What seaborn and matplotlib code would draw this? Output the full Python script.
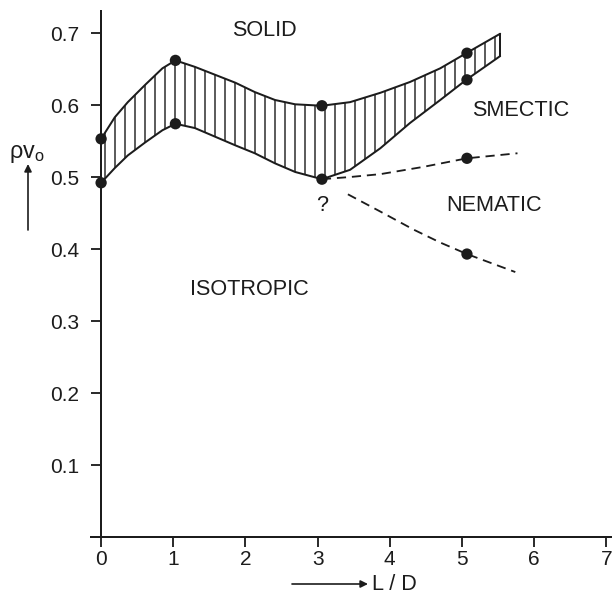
import numpy as np
import pandas as pd
import matplotlib
matplotlib.use("Agg")
import matplotlib.pyplot as plt
import seaborn as sns

# Coexistence band (solid / fluid), read along L/D
band_x = [0, 0.19, 0.37, 0.61, 0.85, 1.03, 1.30, 1.58, 1.86, 2.13, 2.41, 2.69,
          3.06, 3.45, 3.87, 4.28, 4.70, 5.06, 5.53]
band_upper = [0.553, 0.583, 0.604, 0.628, 0.651, 0.662, 0.653, 0.642, 0.631,
              0.618, 0.607, 0.601, 0.599, 0.604, 0.617, 0.632, 0.651, 0.672, 0.699]
band_lower = [0.492, 0.5125, 0.530, 0.548, 0.565, 0.574, 0.568, 0.556, 0.544,
              0.533, 0.519, 0.507, 0.497, 0.510, 0.540, 0.575, 0.607, 0.635, 0.668]

# Smectic / nematic boundary
sm_x = [3.06, 3.45, 3.87, 4.46, 5.07, 5.77]
sm_y = [0.497, 0.500, 0.504, 0.514, 0.526, 0.533]

# Isotropic / nematic boundary
ni_x = [3.42, 3.87, 4.33, 4.70, 5.07, 5.74]
ni_y = [0.476, 0.452, 0.427, 0.409, 0.393, 0.368]

# Simulation state points
pts_x = [0, 0, 1.03, 1.03, 3.06, 3.06, 5.07, 5.07, 5.07, 5.07]
pts_y = [0.553, 0.492, 0.662, 0.574, 0.599, 0.497, 0.672, 0.635, 0.526, 0.393]

x_ticks = [0, 1, 2, 3, 4, 5, 6, 7]
y_ticks = [0.1, 0.2, 0.3, 0.4, 0.5, 0.6, 0.7]
y_tick_labels = ["0.1", "0.2", "0.3", "0.4", "0.5", "0.6", "0.7"]

region_labels = ["SOLID", "SMECTIC", "NEMATIC", "ISOTROPIC", "?"]
region_x = [2.26, 5.81, 5.45, 2.05, 3.06]
region_y = [0.704, 0.593, 0.461, 0.344, 0.461]

sns.set_style("ticks")
plt.rcParams["font.family"] = ["Liberation Sans", "DejaVu Sans"]
plt.rcParams["hatch.linewidth"] = 0.85
ink = "#1c1c1c"

fig = plt.figure(figsize=(5.1, 5.025), dpi=120)
ax = fig.add_axes([91 / 612, 66 / 603, 521 / 612, 526 / 603])

band = pd.DataFrame({"x": band_x, "upper": band_upper, "lower": band_lower})
ax.fill_between(band["x"], band["lower"], band["upper"], facecolor="none",
                edgecolor=ink, hatch="||", linewidth=0)
sns.lineplot(x="x", y="upper", data=band, ax=ax, color=ink, lw=1.2,
             sort=False, estimator=None)
sns.lineplot(x="x", y="lower", data=band, ax=ax, color=ink, lw=1.2,
             sort=False, estimator=None)
ax.plot([band_x[-1], band_x[-1]], [band_lower[-1], band_upper[-1]], color=ink, lw=1.2)

sns.lineplot(x=sm_x, y=sm_y, ax=ax, color=ink, lw=1.1, sort=False,
             estimator=None, dashes=False, linestyle=(0, (5, 3.2)))
sns.lineplot(x=ni_x, y=ni_y, ax=ax, color=ink, lw=1.1, sort=False,
             estimator=None, dashes=False, linestyle=(0, (5, 3.2)))

sns.scatterplot(x=pts_x, y=pts_y, ax=ax, color=ink, s=46, edgecolor="none",
                zorder=5)

for lab, tx, ty in zip(region_labels, region_x, region_y):
    ax.text(tx, ty, lab, ha="center", va="center", fontsize=13, color=ink)

ax.set_xlim(-0.14, 7.08)
ax.set_ylim(0, 0.7306)
ax.set_xticks(x_ticks)
ax.set_xticklabels([str(v) for v in x_ticks])
ax.set_yticks(y_ticks)
ax.set_yticklabels(y_tick_labels)
ax.tick_params(axis="both", length=6, width=1.1, color=ink, labelcolor=ink,
               labelsize=12.5)
ax.tick_params(axis="x", pad=2)
ax.tick_params(axis="y", pad=7)

sns.despine(ax=ax)
ax.spines["left"].set_position(("data", 0))
ax.spines["bottom"].set_position(("data", 0))
for side in ("left", "bottom"):
    ax.spines[side].set_linewidth(1.2)
    ax.spines[side].set_color(ink)
ax.set_xlabel("")
ax.set_ylabel("")

# Axis captions with arrows
fig.text(372 / 612, 1 - 584 / 603, "L / D", ha="left", va="center",
         fontsize=13, color=ink)
ax.annotate("", xy=(368 / 612, 1 - 584 / 603), xytext=(292 / 612, 1 - 584 / 603),
            xycoords="figure fraction", textcoords="figure fraction",
            arrowprops=dict(arrowstyle="-|>", color=ink, lw=1.0,
                            mutation_scale=9, shrinkA=0, shrinkB=0))
fig.text(9 / 612, 1 - 153 / 603, r"$\mathregular{\rho v_o}$", ha="left",
         va="center", fontsize=14, color=ink)
ax.annotate("", xy=(28 / 612, 1 - 164 / 603), xytext=(28 / 612, 1 - 230 / 603),
            xycoords="figure fraction", textcoords="figure fraction",
            arrowprops=dict(arrowstyle="-|>", color=ink, lw=1.0,
                            mutation_scale=9, shrinkA=0, shrinkB=0))

fig.savefig("out.png", dpi=120)
